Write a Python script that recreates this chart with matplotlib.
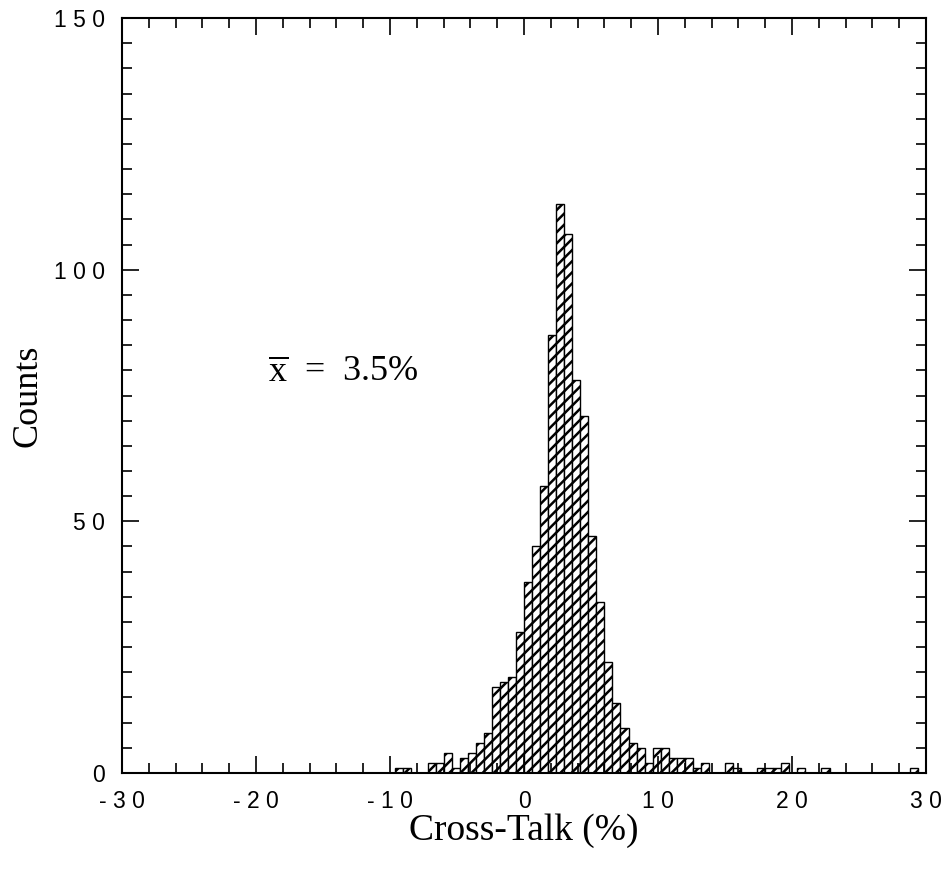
import numpy as np
import matplotlib
matplotlib.use("Agg")
import matplotlib.pyplot as plt
from matplotlib.ticker import MultipleLocator, FixedLocator

plt.rcParams['hatch.linewidth'] = 1.8
plt.rcParams['mathtext.fontset'] = 'custom'
plt.rcParams['mathtext.rm'] = 'Liberation Serif'
plt.rcParams['axes.unicode_minus'] = False

# histogram bins: 100 bins of 0.6 % from -30 to 30
bin_edges = np.linspace(-30, 30, 101)

# non-empty bins, keyed by left edge
bin_left = [-9.6, -9.0, -7.2, -6.6, -6.0, -5.4, -4.8, -4.2, -3.6, -3.0,
            -2.4, -1.8, -1.2, -0.6, 0.0, 0.6, 1.2, 1.8, 2.4, 3.0,
            3.6, 4.2, 4.8, 5.4, 6.0, 6.6, 7.2, 7.8, 8.4, 9.0,
            9.6, 10.2, 10.8, 11.4, 12.0, 12.6, 13.2, 15.0, 15.6, 17.4,
            18.0, 18.6, 19.2, 20.4, 22.2, 28.8]
bin_counts = [1, 1, 2, 2, 4, 1, 3, 4, 6, 8,
              17, 18, 19, 28, 38, 45, 57, 87, 113, 107,
              78, 71, 47, 34, 22, 14, 9, 6, 5, 2,
              5, 5, 3, 3, 3, 1, 2, 2, 1, 1,
              1, 1, 2, 1, 1, 1]

x_ticks = [-30, -20, -10, 0, 10, 20, 30]
y_ticks = [0, 50, 100, 150]

counts = np.zeros(len(bin_edges) - 1)
for left, c in zip(bin_left, bin_counts):
    idx = int(round((left + 30) / 0.6))
    counts[idx] = c

fig = plt.figure(figsize=(9.51, 8.75), dpi=100)
ax = fig.add_axes([0.1283, 0.1166, 0.8454, 0.8628])

nz = counts > 0
ax.bar(bin_edges[:-1][nz], counts[nz], width=0.6, align='edge',
       facecolor='white', edgecolor='black', linewidth=1.0, hatch='///')

ax.set_xlim(-30, 30)
ax.set_ylim(0, 150)


def spaced(v):
    # the original labels are drawn with wide letter spacing
    return ' '.join(str(v))


ax.xaxis.set_major_locator(FixedLocator(x_ticks))
ax.set_xticklabels([spaced(v) for v in x_ticks], fontsize=16.5,
                   family='Liberation Sans')
ax.xaxis.set_minor_locator(MultipleLocator(2))
ax.yaxis.set_major_locator(FixedLocator(y_ticks))
ax.set_yticklabels([spaced(v) for v in y_ticks], fontsize=16.5,
                   family='Liberation Sans')
ax.yaxis.set_minor_locator(MultipleLocator(5))

ax.tick_params(which='both', direction='in', top=True, right=True, width=1.2)
ax.tick_params(which='major', length=12)
ax.tick_params(which='minor', length=7)
ax.tick_params(axis='x', which='major', pad=12)
ax.tick_params(axis='y', which='major', pad=12)

for sp in ax.spines.values():
    sp.set_linewidth(1.5)

ax.set_xlabel('Cross-Talk (%)', family='Liberation Serif', fontsize=27)
ax.xaxis.set_label_coords(0.5, -0.054)
ax.set_ylabel('Counts', family='Liberation Serif', fontsize=26)
ax.yaxis.set_label_coords(-0.096, 0.5)

ax.text(-19.1, 79.5, r'$\overline{\mathrm{x}}$  =  3.5%', family='Liberation Serif',
        fontsize=26, ha='left', va='center')

fig.savefig('out.png', dpi=100)
